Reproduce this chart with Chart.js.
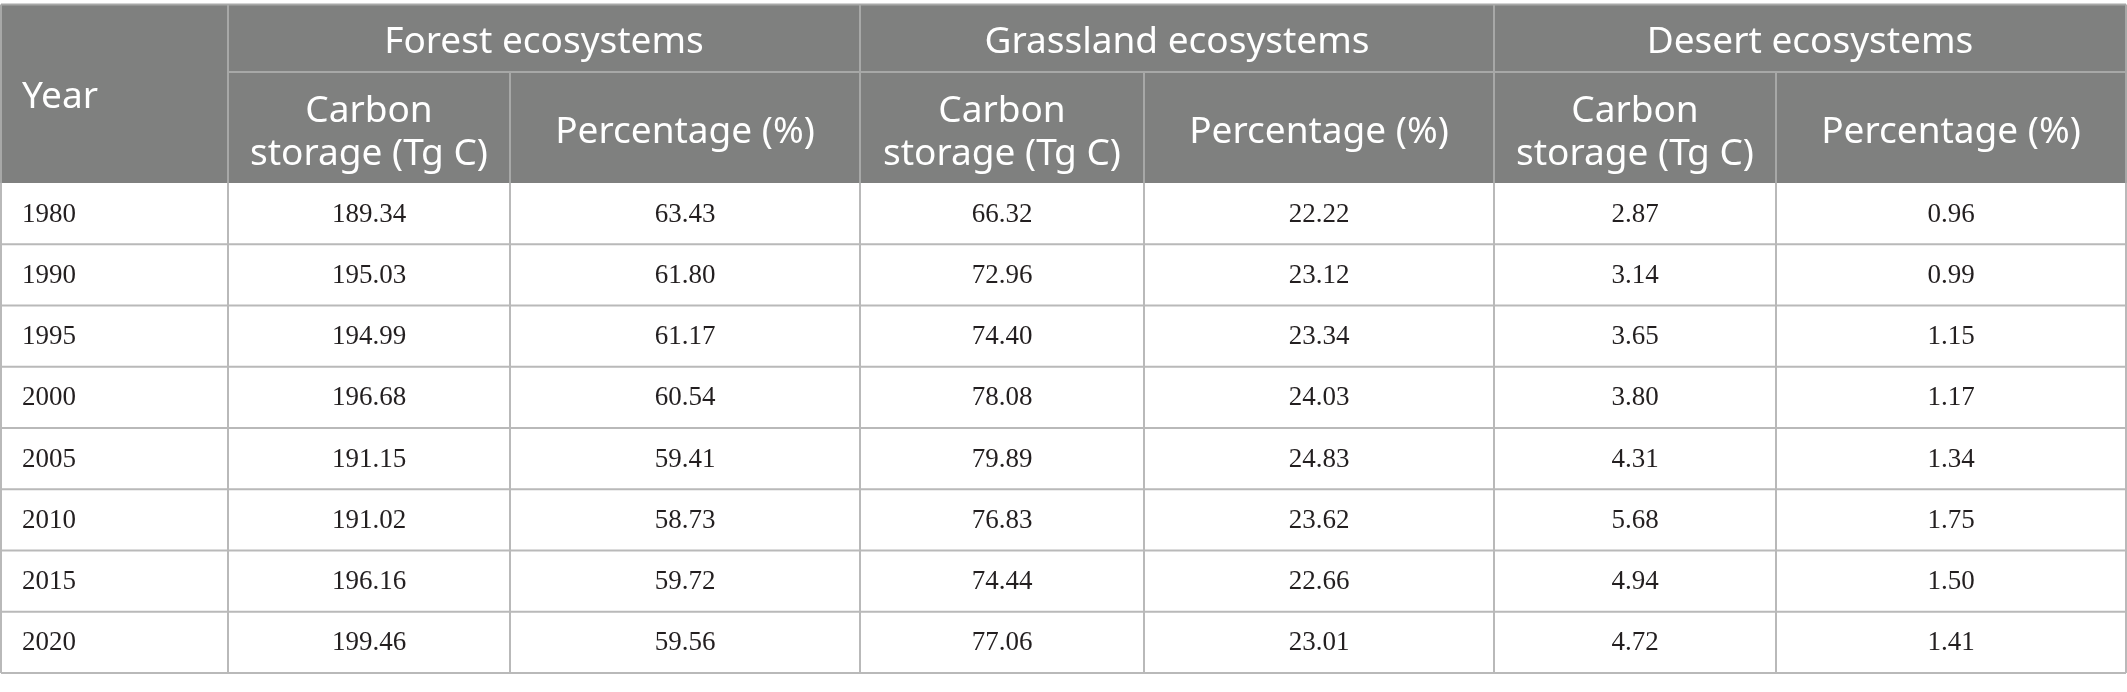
<!DOCTYPE html>
<html>
<head>
<meta charset="utf-8">
<script src="https://cdn.jsdelivr.net/npm/chart.js@4.4.1/dist/chart.umd.min.js"></script>
<style>
    html, body { margin: 0; padding: 0; background: #ffffff; }
    #wrap { width: 2127px; height: 692px; }
</style>
</head>
<body>
<div id="wrap"><canvas id="carbonTable" width="2127" height="692"></canvas></div>
<script>
// Table values
const years = [1980, 1990, 1995, 2000, 2005, 2010, 2015, 2020];
const forestStorage = [189.34, 195.03, 194.99, 196.68, 191.15, 191.02, 196.16, 199.46];
const forestPct = [63.43, 61.80, 61.17, 60.54, 59.41, 58.73, 59.72, 59.56];
const grassStorage = [66.32, 72.96, 74.40, 78.08, 79.89, 76.83, 74.44, 77.06];
const grassPct = [22.22, 23.12, 23.34, 24.03, 24.83, 23.62, 22.66, 23.01];
const desertStorage = [2.87, 3.14, 3.65, 3.80, 4.31, 5.68, 4.94, 4.72];
const desertPct = [0.96, 0.99, 1.15, 1.17, 1.34, 1.75, 1.50, 1.41];

// Header text
const yearLabel = "Year";
const groupLabels = ["Forest ecosystems", "Grassland ecosystems", "Desert ecosystems"];
const subLabels = [["Carbon", "storage (Tg C)"], ["Percentage (%)"]];

// Layout (in canvas units, mapped through the chart scales)
const W = 2127, H = 692;
const colEdges = [1, 228, 510, 860, 1144, 1494, 1776, 2126];
const tableTop = 4.5;
const groupBottom = 72;
const headBottom = 183;
const rowH = 61.25;

const HEAD_BG = '#7f807f';
const HEAD_LINE = '#a7a8a7';
const BODY_LINE = '#b9b9b9';
const HEAD_FONT = '37px "Noto Sans", "Open Sans", sans-serif';
const BODY_FONT = '27px "Liberation Serif", "DejaVu Serif", serif';

const tablePlugin = {
    id: 'tablePlugin',
    afterDraw(chart) {
        const ctx = chart.ctx;
        const sx = chart.scales.x, sy = chart.scales.y;
        const px = v => sx.getPixelForValue(v);
        const py = v => sy.getPixelForValue(v);
        const left = colEdges[0], right = colEdges[colEdges.length - 1];
        const bottom = headBottom + rowH * years.length;

        const line = (x1, y1, x2, y2, color) => {
            ctx.beginPath();
            ctx.strokeStyle = color;
            ctx.lineWidth = 2;
            ctx.moveTo(px(x1), py(y1));
            ctx.lineTo(px(x2), py(y2));
            ctx.stroke();
        };

        ctx.save();

        // header background
        ctx.fillStyle = HEAD_BG;
        ctx.fillRect(px(left), py(tableTop), px(right) - px(left), py(headBottom) - py(tableTop));

        // body grid
        for (let i = 1; i <= years.length; i++) {
            const yy = headBottom + i * rowH;
            line(left, yy, right, yy, BODY_LINE);
        }
        colEdges.forEach(c => line(c, headBottom, c, bottom, BODY_LINE));

        // header grid
        line(left, tableTop, right, tableTop, HEAD_LINE);
        line(colEdges[1], groupBottom, right, groupBottom, HEAD_LINE);
        [0, 1, 3, 5, 7].forEach(i => line(colEdges[i], tableTop, colEdges[i], headBottom, HEAD_LINE));
        [2, 4, 6].forEach(i => line(colEdges[i], groupBottom, colEdges[i], headBottom, HEAD_LINE));

        // header text
        ctx.fillStyle = '#ffffff';
        ctx.font = HEAD_FONT;
        ctx.textBaseline = 'middle';
        ctx.textAlign = 'left';
        ctx.fillText(yearLabel, px(22), py((tableTop + headBottom) / 2 + 4));

        ctx.textAlign = 'center';
        groupLabels.forEach((g, gi) => {
            const a = colEdges[1 + gi * 2], b = colEdges[3 + gi * 2];
            ctx.fillText(g, px((a + b) / 2), py((tableTop + groupBottom) / 2 + 4));
            subLabels.forEach((lines, si) => {
                const c1 = colEdges[1 + gi * 2 + si], c2 = colEdges[2 + gi * 2 + si];
                const mid = (groupBottom + headBottom) / 2 + 5;
                const lh = 43;
                lines.forEach((t, li) => {
                    const yy = mid + (li - (lines.length - 1) / 2) * lh;
                    ctx.fillText(t, px((c1 + c2) / 2), py(yy));
                });
            });
        });

        // body text
        const columns = [forestStorage, forestPct, grassStorage, grassPct, desertStorage, desertPct];
        ctx.fillStyle = '#231f20';
        ctx.font = BODY_FONT;
        years.forEach((yr, r) => {
            const yy = headBottom + (r + 0.5) * rowH + 1;
            ctx.textAlign = 'left';
            ctx.fillText(String(yr), px(22), py(yy));
            ctx.textAlign = 'center';
            columns.forEach((col, ci) => {
                const mid = (colEdges[ci + 1] + colEdges[ci + 2]) / 2;
                ctx.fillText(col[r].toFixed(2), px(mid), py(yy));
            });
        });

        ctx.restore();
    }
};

new Chart(document.getElementById('carbonTable'), {
    type: 'scatter',
    data: { datasets: [{ data: [], pointRadius: 0 }] },
    options: {
        responsive: false,
        devicePixelRatio: 1,
        animation: false,
        layout: { padding: 0 },
        events: [],
        plugins: {
            legend: { display: false },
            tooltip: { enabled: false }
        },
        scales: {
            x: { type: 'linear', min: 0, max: W, display: false },
            y: { type: 'linear', min: 0, max: H, reverse: true, display: false }
        }
    },
    plugins: [tablePlugin]
});
</script>
</body>
</html>
